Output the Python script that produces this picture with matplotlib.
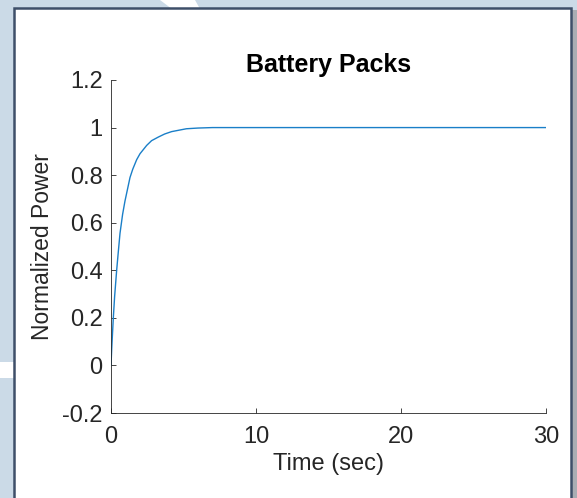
import matplotlib
matplotlib.use("Agg")
import matplotlib.pyplot as plt
from matplotlib.patches import Rectangle, Polygon

# Data
time_sec = [0, 0.05, 0.1, 0.16, 0.25, 0.39, 0.5, 0.62, 0.8, 0.96, 1.1, 1.31,
            1.5, 1.77, 2.0, 2.46, 2.8, 3.26, 3.7, 4.18, 5.2, 6.0, 7.0, 10, 20, 30]
norm_power = [0, 0.07, 0.13, 0.2, 0.29, 0.4, 0.475, 0.555, 0.635, 0.69, 0.73, 0.79,
              0.825, 0.865, 0.89, 0.925, 0.945, 0.96, 0.973, 0.983, 0.995, 0.998,
              1.0, 1.0, 1.0, 1.0]
x_ticks = [0, 10, 20, 30]
y_ticks = [-0.2, 0, 0.2, 0.4, 0.6, 0.8, 1.0, 1.2]
y_tick_labels = ["-0.2", "0", "0.2", "0.4", "0.6", "0.8", "1", "1.2"]

W, H = 577, 498
plt.rcParams['font.family'] = ['Liberation Sans', 'DejaVu Sans']

fig = plt.figure(figsize=(W / 100, H / 100), dpi=100, facecolor='#cbdae7')

def fx(x):
    return x / W

def fy(y):
    return 1 - y / H

# background decorations (screenshot surroundings)
fig.patches.append(Polygon([(fx(160), fy(0)), (fx(195), fy(0)), (fx(200), fy(9)), (fx(172), fy(9))],
                           closed=True, transform=fig.transFigure, facecolor='white',
                           edgecolor='none', zorder=0))
fig.patches.append(Rectangle((0, fy(378)), fx(14), fy(362) - fy(378), transform=fig.transFigure,
                             facecolor='white', edgecolor='none', zorder=0))
fig.patches.append(Rectangle((fx(572), 0), fx(5), fy(10), transform=fig.transFigure,
                             facecolor='#a9adb3', edgecolor='none', zorder=0))
# white panel with dark border
fig.patches.append(Rectangle((fx(14), fy(500)), fx(571 - 14), fy(8) - fy(500),
                             transform=fig.transFigure, facecolor='white',
                             edgecolor='#3e4f69', linewidth=1.8, zorder=1))

ax = fig.add_axes([fx(111), fy(413), fx(546) - fx(111), fy(80) - fy(413)])
ax.set_zorder(5)
ax.set_facecolor('none')
ax.plot(time_sec, norm_power, color='#1a7fc8', linewidth=1.0)

ax.set_xlim(0, 30)
ax.set_ylim(-0.2, 1.2)
ax.set_xticks(x_ticks)
ax.set_xticklabels([str(t) for t in x_ticks])
ax.set_yticks(y_ticks)
ax.set_yticklabels(y_tick_labels)

for s in ['top', 'right']:
    ax.spines[s].set_visible(False)
for s in ['left', 'bottom']:
    ax.spines[s].set_color('#262626')
    ax.spines[s].set_linewidth(0.6)

ax.tick_params(axis='both', direction='in', length=3.4, width=0.6, color='#262626',
               labelcolor='#262626', labelsize=17)
ax.tick_params(axis='y', pad=6)
ax.tick_params(axis='x', pad=9)

ax.set_xlabel('Time (sec)', fontsize=17, color='#262626', labelpad=4)
ax.set_ylabel('Normalized Power', fontsize=16.5, color='#262626', labelpad=6)
ax.set_title('Battery Packs', fontsize=18, fontweight='bold', color='black', pad=6)

fig.savefig('out.png', dpi=100, facecolor=fig.get_facecolor())
